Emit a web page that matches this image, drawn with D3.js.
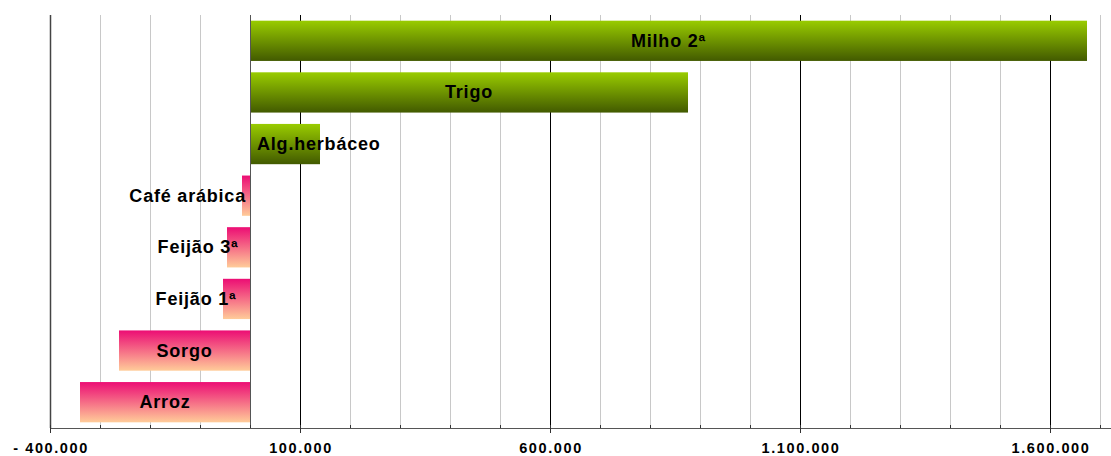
<!DOCTYPE html>
<html>
<head>
<meta charset="utf-8">
<script src="https://cdn.jsdelivr.net/npm/d3@7"></script>
<style>
  body { margin: 0; background: #fff; }
  svg { display: block; }
  text { font-family: "Liberation Sans", Arial, sans-serif; font-weight: bold; }
</style>
</head>
<body>
<svg id="chart"></svg>
<script>
// crops, top to bottom
var categories = ["Milho 2ª", "Trigo", "Alg.herbáceo", "Café arábica", "Feijão 3ª", "Feijão 1ª", "Sorgo", "Arroz"];
var values = [1674000, 876000, 140000, -16000, -46000, -54000, -262000, -340000];
var tickValues = [-400000, 100000, 600000, 1100000, 1600000];
var tickLabels = ["- 400.000", "100.000", "600.000", "1.100.000", "1.600.000"];

var W = 1111, H = 456;
var margin = { top: 15, right: 0, bottom: 28, left: 50 };
var w = W - margin.left - margin.right,
    h = H - margin.top - margin.bottom;

var svg = d3.select("#chart").attr("width", W).attr("height", H);

var defs = svg.append("defs");
var gPos = defs.append("linearGradient").attr("id", "gpos")
  .attr("x1", 0).attr("y1", 0).attr("x2", 0).attr("y2", 1);
gPos.append("stop").attr("offset", "0%").attr("stop-color", "#99cc00");
gPos.append("stop").attr("offset", "100%").attr("stop-color", "#425a00");
var gNeg = defs.append("linearGradient").attr("id", "gneg")
  .attr("x1", 0).attr("y1", 0).attr("x2", 0).attr("y2", 1);
gNeg.append("stop").attr("offset", "0%").attr("stop-color", "#ec0d74");
gNeg.append("stop").attr("offset", "100%").attr("stop-color", "#ffcc99");

var x = d3.scaleLinear().domain([-400000, 1722000]).range([0, w]);
var y = d3.scaleBand().domain(categories).range([0, h]).paddingInner(0.22).paddingOuter(0.11);

var g = svg.append("g").attr("transform", `translate(${margin.left},${margin.top})`);

// gridlines every 100.000
var grid = d3.range(-400000, 1700001, 100000);
g.append("g").selectAll("line")
  .data(grid)
  .join("line")
  .attr("x1", d => Math.round(x(d)) + 0.5)
  .attr("x2", d => Math.round(x(d)) + 0.5)
  .attr("y1", 0)
  .attr("y2", h)
  .attr("stroke", d => d === -400000 ? "#444" : (tickValues.indexOf(d) >= 0 ? "#000" : "#c8c8c8"))
  .attr("stroke-width", d => d === -400000 ? 1.5 : 1);

// bars
var data = categories.map((c, i) => [c, values[i]]);
var bars = g.append("g");
bars.selectAll("rect")
  .data(data)
  .join("rect")
  .attr("x", d => x(Math.min(0, d[1])))
  .attr("y", d => y(d[0]))
  .attr("width", d => Math.abs(x(d[1]) - x(0)))
  .attr("height", y.bandwidth())
  .attr("fill", d => d[1] >= 0 ? "url(#gpos)" : "url(#gneg)");

// zero line
g.append("line")
  .attr("x1", Math.round(x(0)) + 0.5).attr("x2", Math.round(x(0)) + 0.5)
  .attr("y1", 0).attr("y2", h)
  .attr("stroke", "#555");

// x axis
var axis = g.append("g").attr("transform", `translate(0,${h})`);
axis.append("line")
  .attr("x1", 0).attr("x2", w)
  .attr("y1", 0.5).attr("y2", 0.5)
  .attr("stroke", "#555");
axis.selectAll("line.minor")
  .data(grid)
  .join("line")
  .attr("class", "minor")
  .attr("x1", d => Math.round(x(d)) + 0.5)
  .attr("x2", d => Math.round(x(d)) + 0.5)
  .attr("y1", -3)
  .attr("y2", d => tickValues.indexOf(d) >= 0 ? 5 : 0)
  .attr("stroke", "#333");
axis.selectAll("text")
  .data(tickValues)
  .join("text")
  .attr("x", d => x(d) + 1)
  .attr("y", 25)
  .attr("text-anchor", "middle")
  .style("font-size", "14.5px")
  .style("letter-spacing", "1.6px")
  .text((d, i) => tickLabels[i]);

// bar labels
var labels = g.append("g");
labels.selectAll("text")
  .data(data)
  .join("text")
  .attr("y", d => y(d[0]) + y.bandwidth() / 2)
  .attr("dominant-baseline", "central")
  .style("font-size", "18px")
  .style("letter-spacing", "0.8px")
  .attr("fill", "#000")
  .text(d => d[0])
  .each(function (d) {
    var t = d3.select(this);
    var tw = this.getComputedTextLength();
    var bw = Math.abs(x(d[1]) - x(0));
    if (tw + 10 < bw) {
      t.attr("x", (x(d[1]) + x(0)) / 2).attr("text-anchor", "middle");
    } else if (d[1] >= 0) {
      t.attr("x", x(0) + 7).attr("text-anchor", "start");
    } else {
      t.attr("x", (x(d[1]) + x(0)) / 2).attr("text-anchor", "end");
    }
  });
</script>
</body>
</html>
